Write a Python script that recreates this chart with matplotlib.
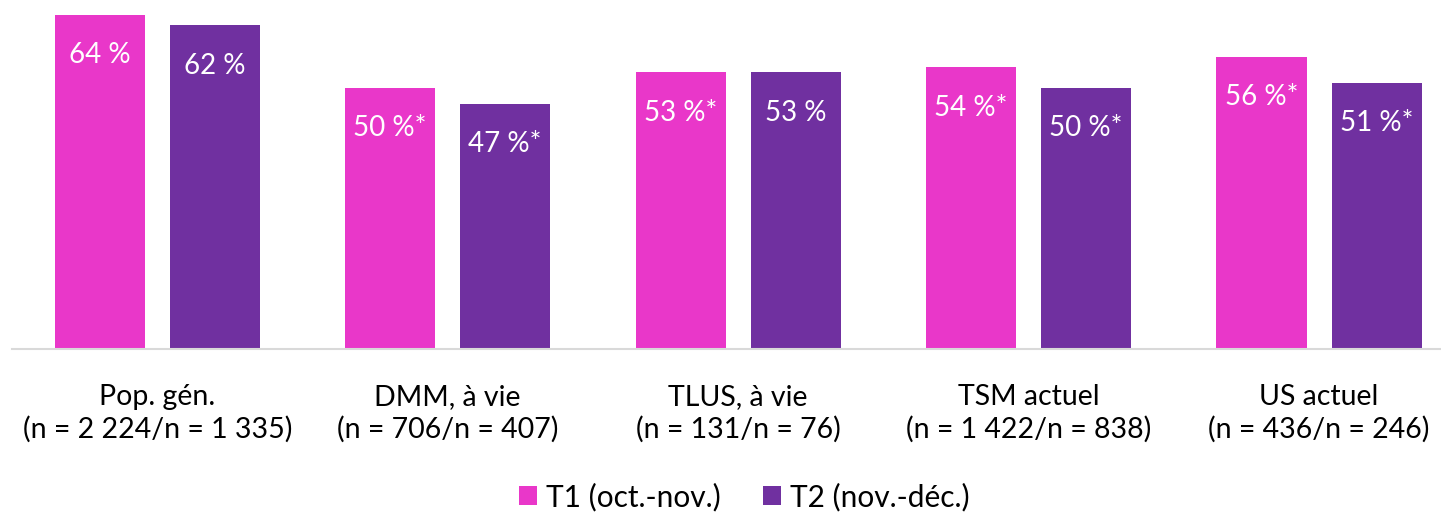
import matplotlib.pyplot as plt
import numpy as np

plt.rcParams['font.family'] = ['Lato', 'DejaVu Sans']

# --- DONNÉES ---
categories = ["Pop. gén.\n(n = 2 224/n = 1 335)",
              "DMM, à vie\n(n = 706/n = 407)",
              "TLUS, à vie\n(n = 131/n = 76)",
              "TSM actuel\n(n = 1 422/n = 838)",
              "US actuel\n(n = 436/n = 246)"]
t1_values = [64, 50, 53, 54, 56]
t2_values = [62, 47, 53, 50, 51]
t1_labels = ["64 %", "50 %*", "53 %*", "54 %*", "56 %*"]
t2_labels = ["62 %", "47 %*", "53 %", "50 %*", "51 %*"]
series_names = ["T1 (oct.-nov.)", "T2 (nov.-déc.)"]

PINK = "#E937C9"
PURPLE = "#7030A0"

fig = plt.figure(figsize=(14.41, 5.12), dpi=100)
ax = fig.add_axes([12 / 1441, 163 / 512, 1 - 12 / 1441, 335 / 512])

x = np.arange(len(categories))
w = 0.31
off = 0.198
b1 = ax.bar(x - off, t1_values, w, color=PINK, label=series_names[0])
b2 = ax.bar(x + off, t2_values, w, color=PURPLE, label=series_names[1])

# étiquettes de valeurs (blanc, dans la barre)
for bars, labels in [(b1, t1_labels), (b2, t2_labels)]:
    for rect, lab in zip(bars, labels):
        ax.annotate(lab, (rect.get_x() + rect.get_width() / 2, rect.get_height()),
                    xytext=(0, -29), textcoords="offset points",
                    ha="center", va="center", color="white", fontsize=20)

ax.set_xlim(-0.5, 4.42)
ax.set_ylim(0, 64.2)
ax.set_xticks(x)
ax.set_xticklabels(categories, fontsize=20.5, linespacing=1.3)
ax.tick_params(axis="x", length=0, pad=25)
ax.set_yticks([])
for s in ["top", "right", "left"]:
    ax.spines[s].set_visible(False)
ax.spines["bottom"].set_color("#D9D9D9")
ax.spines["bottom"].set_linewidth(1.5)

ax.legend(loc="lower center", bbox_to_anchor=(0.5 + 18 / 1441, -0.565), ncol=2,
          frameon=False, fontsize=21.5, handlelength=0.6, handleheight=0.6,
          handletextpad=0.3, columnspacing=1.4)

fig.savefig("out.png", dpi=100)
